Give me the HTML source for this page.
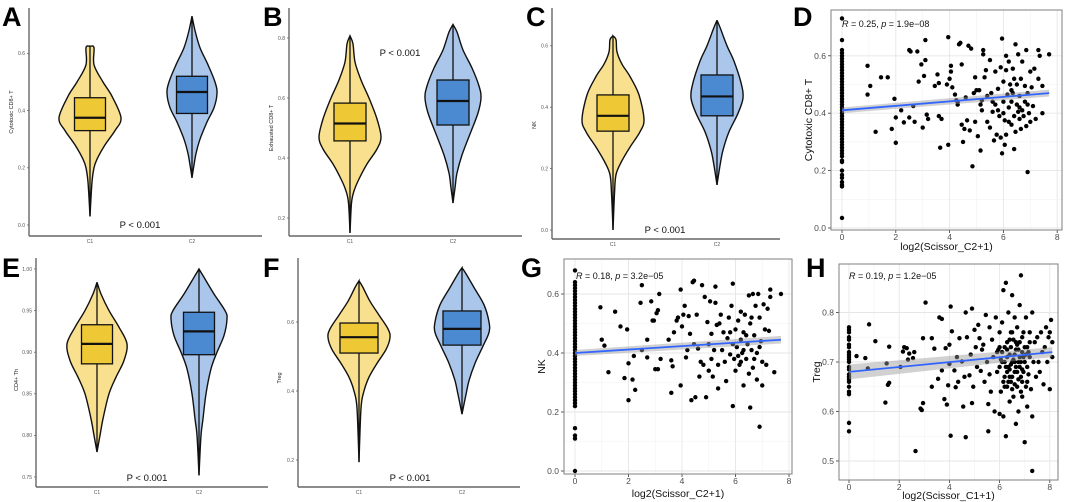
<!DOCTYPE html>
<html><head><meta charset="utf-8"><style>
body{margin:0;background:#fff;}
svg{display:block;font-family:"Liberation Sans",sans-serif;}
</style></head><body>
<svg id="fig" width="1065" height="502" viewBox="0 0 1065 502">
<g font-weight="bold" font-size="27" fill="#000">
<text x="2" y="26">A</text>
<text x="263" y="26">B</text>
<text x="526" y="26">C</text>
<text x="793" y="26">D</text>
<text x="2" y="277">E</text>
<text x="263" y="277">F</text>
<text x="521" y="277">G</text>
<text x="806" y="277">H</text>
</g>
</svg>
<script>
// ---------- Violin data ----------
const groups = ["C1","C2"];
const aTicks = [0.0,0.2,0.4,0.6];
const aC1Profile = [[0.625,0],[0.62,4],[0.56,4],[0.5,13],[0.45,22],[0.375,31],[0.33,25],[0.28,15],[0.23,7],[0.2,4],[0.15,2],[0.03,0]];
const aC2Profile = [[0.73,0],[0.68,3],[0.62,8],[0.56,16],[0.5,23],[0.46,25],[0.41,22],[0.36,15],[0.3,8],[0.25,4],[0.21,2],[0.165,0]];
const aC1Box = [0.33,0.375,0.445];
const aC2Box = [0.39,0.465,0.52];
const bTicks = [0.2,0.4,0.6,0.8];
const bC1Profile = [[0.807,0],[0.78,3],[0.72,5],[0.66,11],[0.6,19],[0.53,27],[0.47,31],[0.43,27],[0.38,17],[0.33,9],[0.29,4],[0.25,1.5],[0.15,0]];
const bC2Profile = [[0.845,0],[0.82,4],[0.76,10],[0.7,19],[0.64,26],[0.6,28],[0.55,25],[0.48,17],[0.41,9],[0.35,4],[0.3,2],[0.25,0]];
const bC1Box = [0.457,0.515,0.583];
const bC2Box = [0.51,0.59,0.66];
const cTicks = [0.0,0.2,0.4,0.6];
const cC1Profile = [[0.632,0],[0.62,3],[0.58,4],[0.54,9],[0.5,17],[0.44,26],[0.36,31],[0.32,27],[0.27,17],[0.22,8],[0.18,3],[0.12,1.5],[0.0,0]];
const cC2Profile = [[0.683,0],[0.66,3],[0.6,10],[0.55,17],[0.48,24],[0.43,26],[0.38,21],[0.32,12],[0.26,6],[0.21,3],[0.147,0]];
const cC1Box = [0.322,0.372,0.44];
const cC2Box = [0.372,0.435,0.505];
const eTicks = [0.75,0.80,0.85,0.90,0.95,1.00];
const eC1Profile = [[0.984,0],[0.97,4],[0.95,12],[0.93,22],[0.91,30],[0.89,27],[0.87,19],[0.85,12],[0.82,6],[0.8,3],[0.78,0]];
const eC2Profile = [[1.0,0],[0.99,5],[0.97,15],[0.95,26],[0.94,28],[0.92,25],[0.9,18],[0.88,12],[0.85,7],[0.82,4],[0.8,2],[0.752,0]];
const eC1Box = [0.886,0.91,0.933];
const eC2Box = [0.897,0.925,0.948];
const fTicks = [0.2,0.4,0.6];
const fC1Profile = [[0.719,0],[0.7,4],[0.66,11],[0.62,20],[0.58,29],[0.555,31],[0.52,27],[0.48,18],[0.44,10],[0.4,5],[0.35,2],[0.194,0]];
const fC2Profile = [[0.757,0],[0.74,4],[0.7,12],[0.65,22],[0.6,27],[0.57,27],[0.53,21],[0.48,13],[0.43,7],[0.39,4],[0.333,0]];
const fC1Box = [0.51,0.556,0.597];
const fC2Box = [0.533,0.58,0.632];

// ---------- Scatter data ----------
const dTicksX = [0,2,4,6,8];
const dTicksY = [0.0,0.2,0.4,0.6];
const dZero = [0.035,0.145,0.15,0.16,0.175,0.185,0.2,0.23,0.235,0.25,0.26,0.27,0.28,0.29,0.3,0.31,0.32,0.33,0.34,0.35,0.36,0.37,0.38,0.39,0.4,0.41,0.42,0.43,0.44,0.45,0.46,0.47,0.48,0.49,0.5,0.51,0.52,0.53,0.54,0.55,0.56,0.57,0.58,0.59,0.6,0.61,0.62,0.655,0.73];
const dPoints = [[0.95,0.565],[0.95,0.465],[1.05,0.495],[1.25,0.335],[1.45,0.525],[1.7,0.525],[1.85,0.345],[1.95,0.45],[2.0,0.385],[2.0,0.297],[2.2,0.41],[2.3,0.368],[2.5,0.62],[2.55,0.615],[2.5,0.385],[2.65,0.425],[2.7,0.37],[2.8,0.615],[2.85,0.51],[2.95,0.57],[3.05,0.53],[3.0,0.35],[3.1,0.655],[3.1,0.585],[3.15,0.395],[3.2,0.38],[3.45,0.495],[3.55,0.535],[3.6,0.505],[3.6,0.39],[3.65,0.28],[3.7,0.38],[3.95,0.665],[3.9,0.5],[3.95,0.29],[4.0,0.52],[4.05,0.545],[4.05,0.565],[4.1,0.49],[4.2,0.465],[4.25,0.445],[4.3,0.44],[4.3,0.43],[4.35,0.64],[4.4,0.645],[4.45,0.36],[4.5,0.3],[4.45,0.57],[4.55,0.345],[4.6,0.455],[4.65,0.375],[4.7,0.635],[4.8,0.625],[4.75,0.34],[4.85,0.215],[4.9,0.47],[4.95,0.525],[4.95,0.37],[5.0,0.48],[5.05,0.32],[5.1,0.48],[5.15,0.27],[5.15,0.43],[5.2,0.445],[5.2,0.41],[5.25,0.62],[5.25,0.605],[5.3,0.525],[5.35,0.55],[5.4,0.37],[5.4,0.46],[5.5,0.585],[5.5,0.35],[5.55,0.47],[5.6,0.405],[5.65,0.305],[5.7,0.43],[5.7,0.545],[5.75,0.325],[5.8,0.485],[5.85,0.39],[5.9,0.56],[5.9,0.315],[5.95,0.66],[5.95,0.26],[6.0,0.44],[6.0,0.51],[6.05,0.375],[6.05,0.29],[6.1,0.325],[6.1,0.6],[6.15,0.465],[6.2,0.42],[6.2,0.58],[6.25,0.5],[6.3,0.36],[6.3,0.44],[6.35,0.555],[6.35,0.47],[6.4,0.39],[6.4,0.275],[6.45,0.64],[6.45,0.335],[6.5,0.43],[6.5,0.5],[6.55,0.405],[6.55,0.605],[6.6,0.38],[6.6,0.46],[6.65,0.52],[6.65,0.345],[6.7,0.41],[6.7,0.58],[6.75,0.39],[6.8,0.495],[6.8,0.44],[6.85,0.62],[6.85,0.355],[6.9,0.195],[6.9,0.47],[6.95,0.4],[7.0,0.545],[7.0,0.37],[7.05,0.49],[7.1,0.425],[7.15,0.555],[7.2,0.38],[7.3,0.62],[7.3,0.52],[7.35,0.6],[7.45,0.4],[7.45,0.495],[7.7,0.605],[6.0,0.4],[6.2,0.37],[5.8,0.41],[6.6,0.42],[6.3,0.48],[5.6,0.44],[6.9,0.43],[6.1,0.55],[6.4,0.52]];
const dFitX = [0,7.7];
const dFitY = [0.41,0.47];
const dFitSE = [0.01,0.012];

const gTicksX = [0,2,4,6,8];
const gTicksY = [0.0,0.2,0.4,0.6];
const gZero = [0.0,0.11,0.12,0.145,0.22,0.23,0.24,0.25,0.26,0.27,0.28,0.29,0.3,0.31,0.32,0.33,0.34,0.35,0.36,0.37,0.38,0.39,0.4,0.41,0.42,0.43,0.44,0.45,0.46,0.47,0.48,0.49,0.5,0.51,0.52,0.53,0.54,0.55,0.56,0.57,0.58,0.59,0.6,0.61,0.62,0.63,0.64,0.68];
const gPoints = [[0.95,0.555],[1.0,0.445],[1.1,0.425],[1.25,0.335],[1.5,0.54],[1.7,0.49],[1.85,0.315],[1.95,0.48],[2.0,0.365],[2.0,0.24],[2.15,0.31],[2.2,0.39],[2.25,0.275],[2.45,0.57],[2.5,0.41],[2.5,0.63],[2.7,0.445],[2.7,0.385],[2.85,0.575],[2.9,0.51],[2.95,0.51],[3.0,0.345],[3.05,0.535],[3.1,0.545],[3.1,0.345],[3.15,0.6],[3.2,0.38],[3.5,0.445],[3.6,0.375],[3.6,0.265],[3.65,0.355],[3.7,0.47],[3.8,0.51],[3.85,0.52],[3.95,0.615],[3.95,0.29],[4.0,0.49],[4.05,0.53],[4.1,0.56],[4.15,0.385],[4.2,0.41],[4.25,0.525],[4.3,0.465],[4.35,0.24],[4.4,0.64],[4.45,0.645],[4.45,0.43],[4.5,0.25],[4.55,0.53],[4.6,0.415],[4.65,0.32],[4.7,0.37],[4.75,0.63],[4.8,0.36],[4.85,0.59],[4.9,0.25],[4.95,0.505],[5.0,0.34],[5.0,0.43],[5.05,0.575],[5.1,0.38],[5.1,0.465],[5.15,0.32],[5.2,0.41],[5.25,0.57],[5.25,0.625],[5.3,0.495],[5.35,0.36],[5.35,0.28],[5.4,0.5],[5.45,0.53],[5.5,0.41],[5.55,0.47],[5.6,0.37],[5.65,0.305],[5.7,0.45],[5.75,0.52],[5.8,0.395],[5.85,0.56],[5.9,0.635],[5.9,0.22],[5.95,0.38],[6.0,0.48],[6.0,0.34],[6.05,0.42],[6.1,0.51],[6.15,0.36],[6.2,0.54],[6.2,0.445],[6.25,0.4],[6.3,0.29],[6.3,0.47],[6.35,0.53],[6.4,0.38],[6.45,0.43],[6.5,0.595],[6.5,0.33],[6.55,0.215],[6.55,0.5],[6.6,0.41],[6.65,0.6],[6.65,0.35],[6.7,0.46],[6.75,0.56],[6.8,0.31],[6.8,0.4],[6.85,0.6],[6.9,0.15],[6.9,0.52],[6.95,0.44],[7.0,0.29],[7.0,0.37],[7.05,0.565],[7.1,0.48],[7.15,0.36],[7.2,0.55],[7.25,0.475],[7.3,0.615],[7.3,0.59],[7.45,0.335],[7.7,0.6],[6.1,0.39],[5.9,0.43],[6.4,0.46],[6.7,0.38],[6.2,0.37],[5.8,0.47],[6.6,0.52],[6.9,0.42],[6.3,0.41]];
const gFitX = [0,7.7];
const gFitY = [0.40,0.445];
const gFitSE = [0.01,0.013];

const hTicksX = [0,2,4,6,8];
const hTicksY = [0.5,0.6,0.7,0.8];
const hZero = [0.56,0.577,0.635,0.64,0.65,0.66,0.665,0.67,0.675,0.685,0.69,0.7,0.705,0.71,0.715,0.72,0.73,0.735,0.745,0.75,0.76,0.765,0.77];
const hPoints = [[0.3,0.712],[0.65,0.708],[0.75,0.687],[0.8,0.776],[1.05,0.742],[1.45,0.618],[1.5,0.697],[1.55,0.654],[1.6,0.658],[1.6,0.731],[2.05,0.69],[2.15,0.721],[2.2,0.73],[2.3,0.728],[2.35,0.705],[2.4,0.717],[2.55,0.708],[2.6,0.72],[2.65,0.52],[2.85,0.606],[2.9,0.603],[2.95,0.617],[2.95,0.748],[3.05,0.82],[3.3,0.748],[3.3,0.65],[3.4,0.727],[3.55,0.666],[3.6,0.79],[3.7,0.787],[3.7,0.683],[3.8,0.625],[3.85,0.728],[3.9,0.614],[3.95,0.653],[4.0,0.735],[4.0,0.696],[4.05,0.812],[4.05,0.551],[4.1,0.762],[4.2,0.683],[4.25,0.649],[4.3,0.71],[4.35,0.66],[4.4,0.748],[4.5,0.701],[4.55,0.61],[4.6,0.67],[4.65,0.8],[4.65,0.548],[4.7,0.75],[4.8,0.673],[4.85,0.715],[4.9,0.617],[4.9,0.808],[4.95,0.65],[5.0,0.765],[5.05,0.73],[5.1,0.69],[5.15,0.775],[5.2,0.748],[5.25,0.682],[5.3,0.725],[5.35,0.735],[5.4,0.66],[5.45,0.795],[5.5,0.7],[5.55,0.56],[5.55,0.615],[5.6,0.675],[5.6,0.77],[5.65,0.64],[5.7,0.745],[5.75,0.71],[5.8,0.6],[5.85,0.79],[5.9,0.68],[5.95,0.725],[6.0,0.595],[6.0,0.76],[6.05,0.64],[6.1,0.7],[6.1,0.78],[6.15,0.845],[6.15,0.59],[6.2,0.67],[6.2,0.73],[6.25,0.86],[6.25,0.55],[6.3,0.74],[6.3,0.65],[6.35,0.69],[6.35,0.8],[6.4,0.62],[6.4,0.715],[6.45,0.76],[6.45,0.66],[6.5,0.7],[6.5,0.835],[6.55,0.63],[6.55,0.745],[6.6,0.68],[6.6,0.79],[6.65,0.575],[6.65,0.725],[6.7,0.65],[6.7,0.77],[6.75,0.7],[6.75,0.6],[6.8,0.74],[6.8,0.815],[6.85,0.67],[6.85,0.875],[6.9,0.72],[6.9,0.63],[6.95,0.76],[6.95,0.68],[7.0,0.538],[7.0,0.7],[7.05,0.65],[7.05,0.79],[7.1,0.73],[7.1,0.61],[7.15,0.675],[7.2,0.76],[7.2,0.71],[7.25,0.645],[7.3,0.59],[7.3,0.8],[7.3,0.48],[7.35,0.7],[7.4,0.74],[7.45,0.67],[7.5,0.75],[7.55,0.7],[7.6,0.68],[7.65,0.76],[7.7,0.72],[7.75,0.655],[7.8,0.73],[7.85,0.77],[7.9,0.7],[7.95,0.75],[8.0,0.645],[8.0,0.76],[8.05,0.785],[8.1,0.74],[8.1,0.71],[6.1,0.72],[6.3,0.68],[6.4,0.745],[6.5,0.67],[6.6,0.715],[6.7,0.735],[6.8,0.69],[6.9,0.75],[7.0,0.73],[6.2,0.7],[6.6,0.655],[6.8,0.71],[6.4,0.685],[7.1,0.69],[6.5,0.76],[6.7,0.68],[6.3,0.71],[6.9,0.66],[6.0,0.69],[7.2,0.74],[6.55,0.705],[6.75,0.725],[6.15,0.66],[6.45,0.73],[6.95,0.71],[5.9,0.72],[6.85,0.64],[6.65,0.69],[7.15,0.72],[6.35,0.66],[6.05,0.705],[6.25,0.69],[6.45,0.695],[6.65,0.74],[6.85,0.7],[7.05,0.715],[6.3,0.725],[6.6,0.7],[6.9,0.685],[6.2,0.65],[6.5,0.645],[6.75,0.665],[7.1,0.66],[6.4,0.67],[6.0,0.73]];
const hFitX = [0,8.1];
const hFitY = [0.68,0.72];
const hFitSE = [0.015,0.01];

const NS = "http://www.w3.org/2000/svg";
const svg = document.getElementById("fig");
function mk(tag, attrs, parent){
  const e = document.createElementNS(NS, tag);
  for (const k in attrs) e.setAttribute(k, attrs[k]);
  (parent||svg).appendChild(e);
  return e;
}
function smoothPath(pts){
  let d = "M"+pts[0][0]+","+pts[0][1];
  for (let i=0;i<pts.length-1;i++){
    const p0=pts[Math.max(i-1,0)], p1=pts[i], p2=pts[i+1], p3=pts[Math.min(i+2,pts.length-1)];
    const c1=[p1[0]+(p2[0]-p0[0])/6, p1[1]+(p2[1]-p0[1])/6];
    const c2=[p2[0]-(p3[0]-p1[0])/6, p2[1]-(p3[1]-p1[1])/6];
    d += " C"+c1[0].toFixed(1)+","+c1[1].toFixed(1)+" "+c2[0].toFixed(1)+","+c2[1].toFixed(1)+" "+p2[0].toFixed(1)+","+p2[1].toFixed(1);
  }
  return d;
}
const fills = {C1:["#f8e08f","#efc935"], C2:["#aac6ea","#4b89d1"]};

function violinPanel(cfg){
  const g = mk("g", {});
  
  
  const y = v => cfg.y0 - (v - cfg.v0) * cfg.k;
  const ax = mk("line", {x1:cfg.ax, y1:cfg.top, x2:cfg.ax, y2:cfg.bottom, stroke:"#666", "stroke-width":1.4}, g);
  
  
  const bx = mk("line", {x1:cfg.ax, y1:cfg.bottom, x2:cfg.right, y2:cfg.bottom, stroke:"#666", "stroke-width":1.4}, g);
  
  
  cfg.ticks.forEach(t=>{
    mk("line",{x1:cfg.ax-2,x2:cfg.ax,y1:y(t),y2:y(t),stroke:"#666","stroke-width":0.8},g);
    const tl = mk("text",{x:cfg.ax-4,y:y(t)+1.8,"font-size":5,fill:"#555","text-anchor":"end"},g);
    tl.textContent = cfg.fmt(t);
    
    
  });
  groups.forEach((grp,i)=>{
    const cx = cfg.centers[i];
    const prof = cfg.profiles[i];
    const right = prof.map(p=>[cx+p[1], y(p[0])]);
    const left = prof.slice().reverse().map(p=>[cx-p[1], y(p[0])]);
    const vp = mk("path",{d:smoothPath(right)+" L"+smoothPath(left).slice(1)+" Z", fill:fills[grp][0], stroke:"#111","stroke-width":1.4},g);
    
    
    const top = prof[0][0], bot = prof[prof.length-1][0];
    mk("line",{x1:cx,x2:cx,y1:y(top),y2:y(bot),stroke:"#111","stroke-width":1.3},g);
    const b = cfg.boxes[i];
    const rect = mk("rect",{x:cx-cfg.bw,y:y(b[2]),width:cfg.bw*2,height:y(b[0])-y(b[2]),fill:fills[grp][1],stroke:"#111","stroke-width":1.3},g);
    
    
    mk("line",{x1:cx-cfg.bw,x2:cx+cfg.bw,y1:y(b[1]),y2:y(b[1]),stroke:"#111","stroke-width":2.2},g);
    const xl = mk("text",{x:cx,y:cfg.bottom+7,"font-size":5,fill:"#555","text-anchor":"middle"},g);
    xl.textContent = grp;
    
    
  });
  const yt = mk("text",{x:0,y:0,"font-size":5.5,fill:"#222","text-anchor":"middle",transform:`translate(${cfg.tx},${cfg.ty}) rotate(-90)`},g);
  yt.textContent = cfg.title;
  
  
  const pt = mk("text",{x:cfg.px,y:cfg.py,"font-size":9.5,fill:"#111","text-anchor":"middle"},g);
  pt.textContent = "P < 0.001";
  
  
}
const f1 = t=>t.toFixed(1), f2 = t=>t.toFixed(2);
violinPanel({name:"panel-a-violin",ax:29,top:8,bottom:236,right:262,y0:225,v0:0,k:286,ticks:aTicks,fmt:f1,centers:[90,192],profiles:[aC1Profile,aC2Profile],boxes:[aC1Box,aC2Box],bw:15.5,title:"Cytotoxic CD8+ T",tx:13,ty:112,px:140,py:228});
violinPanel({name:"panel-b-violin",ax:289,top:8,bottom:236,right:522,y0:278,v0:0,k:300,ticks:bTicks,fmt:f1,centers:[350,453],profiles:[bC1Profile,bC2Profile],boxes:[bC1Box,bC2Box],bw:16,title:"Exhausted CD8+ T",tx:273,ty:128,px:400,py:56});
violinPanel({name:"panel-c-violin",ax:552,top:8,bottom:239,right:780,y0:230,v0:0,k:307,ticks:cTicks,fmt:f1,centers:[613,717],profiles:[cC1Profile,cC2Profile],boxes:[cC1Box,cC2Box],bw:16,title:"NK",tx:536,ty:125,px:665,py:233});
violinPanel({name:"panel-e-violin",ax:36,top:258,bottom:487,right:268,y0:269,v0:1.0,k:832,ticks:eTicks,fmt:f2,centers:[97,199],profiles:[eC1Profile,eC2Profile],boxes:[eC1Box,eC2Box],bw:15.5,title:"CD4+ Th",tx:18,ty:380,px:147,py:481});
violinPanel({name:"panel-f-violin",ax:298,top:258,bottom:487,right:520,y0:529,v0:0,k:345,ticks:fTicks,fmt:f1,centers:[359,462],profiles:[fC1Profile,fC2Profile],boxes:[fC1Box,fC2Box],bw:19,title:"Treg",tx:281,ty:378,px:410,py:481});

function scatterPanel(cfg){
  const g = mk("g", {});
  
  
  const X = v => cfg.x0 + (v - cfg.xv0) * cfg.xk;
  const Y = v => cfg.y0 - (v - cfg.yv0) * cfg.yk;
  mk("rect",{x:cfg.l,y:cfg.t,width:cfg.r-cfg.l,height:cfg.b-cfg.t,fill:"#fff"},g);
  for (let i=0;i<cfg.tx.length-1;i++){
    const m=(cfg.tx[i]+cfg.tx[i+1])/2;
    mk("line",{x1:X(m),x2:X(m),y1:cfg.t,y2:cfg.b,stroke:"#f2f2f2","stroke-width":0.6},g);
  }
  for (let i=0;i<cfg.ty.length-1;i++){
    const m=(cfg.ty[i]+cfg.ty[i+1])/2;
    mk("line",{x1:cfg.l,x2:cfg.r,y1:Y(m),y2:Y(m),stroke:"#f2f2f2","stroke-width":0.6},g);
  }
  cfg.tx.forEach(t=>{
    mk("line",{x1:X(t),x2:X(t),y1:cfg.t,y2:cfg.b,stroke:"#e6e6e6","stroke-width":0.9},g);
    mk("line",{x1:X(t),x2:X(t),y1:cfg.b,y2:cfg.b+3,stroke:"#333","stroke-width":0.8},g);
    const tl = mk("text",{x:X(t),y:cfg.b+10,"font-size":8.5,fill:"#4d4d4d","text-anchor":"middle"},g);
    tl.textContent = String(t);
    
    
  });
  cfg.ty.forEach(t=>{
    mk("line",{x1:cfg.l,x2:cfg.r,y1:Y(t),y2:Y(t),stroke:"#e6e6e6","stroke-width":0.9},g);
    mk("line",{x1:cfg.l-3,x2:cfg.l,y1:Y(t),y2:Y(t),stroke:"#333","stroke-width":0.8},g);
    const tl = mk("text",{x:cfg.l-5,y:Y(t)+3,"font-size":8.5,fill:"#4d4d4d","text-anchor":"end"},g);
    tl.textContent = t.toFixed(1);
    
    
  });
  cfg.zero.forEach(v=>{
    const c = mk("circle",{cx:X(0),cy:Y(v),r:2.2,fill:"#000"},g);
    
    
  });
  cfg.points.forEach(p=>{
    const c = mk("circle",{cx:X(p[0]),cy:Y(p[1]),r:2.2,fill:"#000"},g);
    
    
  });
  const fx=cfg.fitX, fy=cfg.fitY, se=cfg.se;
  const band = mk("path",{d:`M${X(fx[0])},${Y(fy[0]+se[0])} L${X(fx[1])},${Y(fy[1]+se[1])} L${X(fx[1])},${Y(fy[1]-se[1])} L${X(fx[0])},${Y(fy[0]-se[0])} Z`,fill:"#999","fill-opacity":0.45},g);
  
  
  const fl = mk("line",{x1:X(fx[0]),y1:Y(fy[0]),x2:X(fx[1]),y2:Y(fy[1]),stroke:"#3366ff","stroke-width":1.8},g);
  
  
  mk("rect",{x:cfg.l,y:cfg.t,width:cfg.r-cfg.l,height:cfg.b-cfg.t,fill:"none",stroke:"#7f7f7f","stroke-width":1},g);
  const st = mk("text",{x:cfg.sx,y:cfg.sy,"font-size":9,fill:"#111"},g);
  st.innerHTML = `<tspan font-style="italic">R</tspan> = ${cfg.R}, <tspan font-style="italic">p</tspan> = ${cfg.p}`;
  
  
  const xt = mk("text",{x:(cfg.l+cfg.r)/2,y:cfg.xty,"font-size":10.5,fill:"#111","text-anchor":"middle"},g);
  xt.textContent = cfg.xtitle;
  
  
  const yt = mk("text",{x:0,y:0,"font-size":10.5,fill:"#111","text-anchor":"middle",transform:`translate(${cfg.l-19},${(cfg.t+cfg.b)/2}) rotate(-90)`},g);
  yt.textContent = cfg.ytitle;
  
  
}
scatterPanel({name:"panel-d-scatter",l:831,t:10,r:1062,b:230,x0:842,xv0:0,xk:26.9,y0:228,yv0:0,yk:287,tx:dTicksX,ty:dTicksY,zero:dZero,points:dPoints,fitX:dFitX,fitY:dFitY,se:dFitSE,sx:842,sy:27,R:"0.25",p:"1.9e\u221208",xtitle:"log2(Scissor_C2+1)",xty:250,ytitle:"Cytotoxic CD8+ T"});
scatterPanel({name:"panel-g-scatter",l:564,t:259,r:792,b:474,x0:575,xv0:0,xk:26.75,y0:471,yv0:0,yk:295,tx:gTicksX,ty:gTicksY,zero:gZero,points:gPoints,fitX:gFitX,fitY:gFitY,se:gFitSE,sx:576,sy:279,R:"0.18",p:"3.2e\u221205",xtitle:"log2(Scissor_C2+1)",xty:497,ytitle:"NK"});
scatterPanel({name:"panel-h-scatter",l:839,t:264,r:1058,b:480,x0:849,xv0:0,xk:25.1,y0:461,yv0:0.5,yk:495,tx:hTicksX,ty:hTicksY,zero:hZero,points:hPoints,fitX:hFitX,fitY:hFitY,se:hFitSE,sx:849,sy:279,R:"0.19",p:"1.2e\u221205",xtitle:"log2(Scissor_C1+1)",xty:499,ytitle:"Treg"});
</script>
</body></html>
